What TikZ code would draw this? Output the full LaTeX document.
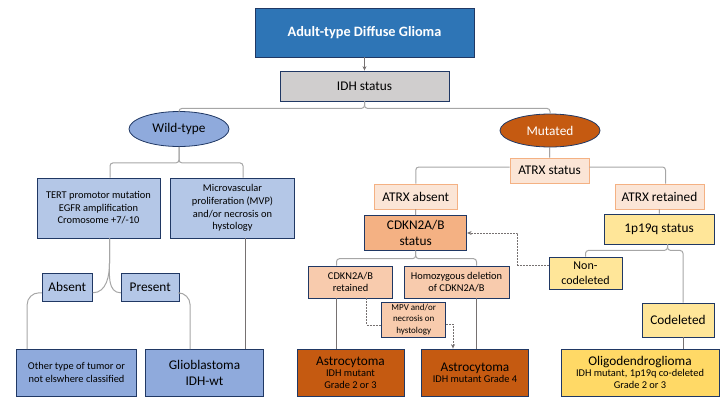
\documentclass[tikz,border=0pt]{standalone}
\usepackage{fontspec}
\setmainfont{Carlito}
\usetikzlibrary{shapes.geometric,arrows.meta}

\definecolor{navy}{HTML}{203864}
\definecolor{titleblue}{HTML}{2E75B6}
\definecolor{idhgray}{HTML}{D0CECE}
\definecolor{wildblue}{HTML}{8FAADC}
\definecolor{paleblue}{HTML}{B4C7E7}
\definecolor{rust}{HTML}{C55A11}
\definecolor{peachpale}{HTML}{FBE5D6}
\definecolor{peachline}{HTML}{F4B183}
\definecolor{peachmid}{HTML}{F8CBAD}
\definecolor{paleyellow}{HTML}{FFE699}
\definecolor{gold}{HTML}{FFD966}
\definecolor{bracegray}{HTML}{A6A6A6}
\definecolor{linegray}{HTML}{767171}

\newcommand{\txttitle}{\fontsize{14.3}{17}\selectfont\bfseries}
\newcommand{\txtbig}{\fontsize{13.3}{16}\selectfont}
\newcommand{\txtmid}{\fontsize{12}{14.5}\selectfont}
\newcommand{\txtsmall}{\fontsize{10.4}{12.6}\selectfont}
\newcommand{\txttiny}{\fontsize{9}{11.3}\selectfont}

\begin{document}
\begin{tikzpicture}[
    x=1pt, y=-1pt,
    box/.style={draw=navy, line width=0.8pt, align=center, inner sep=1pt},
    oval/.style={ellipse, draw=navy, line width=0.8pt, inner sep=0pt, font=\txtbig},
    status/.style={draw=peachline, line width=0.8pt, fill=peachpale, align=center, font=\txtbig},
    brace/.style={draw=bracegray, line width=1pt, rounded corners=3pt},
    link/.style={draw=linegray, line width=0.8pt},
    dashlink/.style={draw=linegray, line width=0.8pt, dash pattern=on 2pt off 1pt},
    tip/.style={-{Stealth[length=4.5pt,width=4pt]}}
]
\useasboundingbox (0,0) rectangle (720,405);

% Top of the tree
\node[box, fill=titleblue, text=white, font=\txttitle, minimum width=219pt, minimum height=49pt] (title) at (364.5,32.5) {Adult-type Diffuse Glioma};
\node[box, fill=idhgray, font=\txtbig, minimum width=169pt, minimum height=30pt] (idh) at (364.5,86) {IDH status};
\node[oval, fill=wildblue, minimum width=100pt, minimum height=35pt] (wild) at (179,129) {Wild-type};
\node[oval, fill=rust, text=white, minimum width=100pt, minimum height=33pt] (mut) at (550,130.5) {Mutated};

% Wild-type branch
\node[box, fill=paleblue, font=\txtsmall, minimum width=123pt, minimum height=60pt] (tert) at (98.5,208) {TERT promotor mutation\\EGFR amplification\\Cromosome +7/-10};
\node[box, fill=paleblue, font=\txtsmall, minimum width=124pt, minimum height=60pt] (mvp) at (232.5,208) {Microvascular\\proliferation (MVP)\\and/or necrosis on\\hystology};
\node[box, fill=paleblue, font=\txtbig, minimum width=50pt, minimum height=28pt] (absent) at (67.3,287.3) {Absent};
\node[box, fill=paleblue, font=\txtbig, minimum width=58pt, minimum height=28pt] (present) at (150.2,287.3) {Present};
\node[box, fill=wildblue, font=\txtsmall, minimum width=120pt, minimum height=46.5pt] (other) at (76.5,372.7) {Other type of tumor or\\not elswhere classified};
\node[box, fill=wildblue, font=\txtbig, minimum width=118pt, minimum height=46.5pt] (glio) at (204.5,372.7) {Glioblastoma\\IDH-wt};

% Mutated branch
\node[status, minimum width=79pt, minimum height=25pt] (atrxs) at (549.5,170.5) {ATRX status};
\node[status, minimum width=83pt, minimum height=25pt] (atrxa) at (415.8,196.5) {ATRX absent};
\node[status, minimum width=89pt, minimum height=25pt] (atrxr) at (659.5,196.5) {ATRX retained};
\node[box, fill=peachline, font=\txtbig, minimum width=102pt, minimum height=34.5pt] (cdkn) at (415.7,233) {CDKN2A/B\\status};
\node[box, fill=peachmid, font=\txtsmall, minimum width=84pt, minimum height=32pt] (ret) at (350.5,282) {CDKN2A/B\\retained};
\node[box, fill=peachmid, font=\txtsmall, minimum width=105pt, minimum height=32pt] (homo) at (456.5,282) {Homozygous deletion\\of CDKN2A/B};
\node[box, fill=peachmid, font=\txttiny, minimum width=64pt, minimum height=35pt] (mpvs) at (413.7,319.5) {MPV and/or\\necrosis on\\hystology};
\node[box, fill=rust, minimum width=107pt, minimum height=47pt] (astro1) at (350.5,372.5) {{\txtbig Astrocytoma}\\[-1pt]{\txtsmall IDH mutant}\\{\txtsmall Grade 2 or 3}};
\node[box, fill=rust, minimum width=107pt, minimum height=47pt] (astro2) at (475,372.5) {{\txtbig Astrocytoma}\\[-1pt]{\txtsmall IDH mutant Grade 4}};
\node[box, fill=paleyellow, font=\txtbig, minimum width=110pt, minimum height=30pt] (p19) at (659,229) {1p19q status};
\node[box, fill=paleyellow, font=\txtmid, minimum width=73pt, minimum height=32pt] (noncod) at (585.5,273) {Non-\\codeleted};
\node[box, fill=paleyellow, font=\txtbig, minimum width=72pt, minimum height=34pt] (cod) at (678,320) {Codeleted};
\node[box, fill=gold, minimum width=158pt, minimum height=47pt] (oligo) at (640,372.5) {{\txtbig Oligodendroglioma}\\[-1pt]{\txtsmall IDH mutant, 1p19q co-deleted}\\{\txtsmall Grade 2 or 3}};

% Connectors, top
\draw[link, tip] (title) -- (idh);
\draw[brace] (idh.south) -- ++(0,7) -| (wild.north);
\draw[brace] (idh.south) -- ++(0,7) -| (mut.north);

% Connectors, wild-type
\coordinate (tertin) at ([xshift=11.5pt]tert.north);
\coordinate (mvpin) at ([xshift=10.5pt]mvp.north);
\draw[brace] (wild.south) -- ++(0,16) -| (tertin);
\draw[brace] (wild.south) -- ++(0,16) -| (mvpin);
\coordinate (tertout) at ([xshift=11pt]tert.south);
\coordinate (absentin) at ([yshift=-5.5pt]absent.east);
\coordinate (presentin) at ([yshift=-5.5pt]present.west);
\draw[brace] (tertout) -- ++(0,22) to[out=-90,in=0] (absentin);
\draw[brace] (tertout) -- ++(0,22) to[out=-90,in=180] (presentin);
\coordinate (absentout) at ([yshift=-5.5pt]absent.west);
\coordinate (otherin) at ([xshift=11pt]other.north west);
\draw[brace, rounded corners=12pt] (absentout) -| (otherin);
\coordinate (presentout) at ([yshift=-5.5pt]present.east);
\coordinate (glioin) at ([xshift=45pt]glio.north west);
\draw[brace, rounded corners=12pt] (presentout) -| (glioin);
\coordinate (mvpout) at ([xshift=12.5pt]mvp.south);
\draw[link] (mvpout) -- (mvpout |- glio.north);

% Connectors, mutated
\draw[link] (mut) -- (atrxs);
\draw[brace] ([yshift=3.5pt]atrxs.west) -| (atrxa.north);
\draw[brace] ([yshift=3.5pt]atrxs.east) -| ([xshift=6pt]atrxr.north);
\draw[link] (atrxa) -- (cdkn);
\draw[link] (atrxr) -- (p19);
\coordinate (retin) at ([xshift=-14pt]ret.north);
\coordinate (homoin) at ([xshift=20pt]homo.north);
\draw[brace] (cdkn.south) -- ++(0,8) -| (retin);
\draw[brace] (cdkn.south) -- ++(0,8) -| (homoin);
\draw[link] (retin |- ret.south) -- (retin |- astro1.north);
\draw[link] (homoin |- homo.south) -- (homoin |- astro2.north);
\coordinate (retdash) at ([xshift=16pt]ret.south);
\draw[dashlink] (retdash) |- ([yshift=-5.5pt]mpvs.west);
\draw[dashlink, tip] ([yshift=-4.5pt]mpvs.east) -| ([xshift=-22pt]astro2.north);

% Connectors, 1p19q
\coordinate (p19tip) at ([xshift=8.5pt]p19.south);
\coordinate (codin) at ([xshift=5pt]cod.north);
\draw[brace] (p19tip) -- ++(0,6) -| (noncod.north);
\draw[brace] (p19tip) -- ++(0,6) -| (codin);
\draw[link] (codin |- cod.south) -- (codin |- oligo.north);
\draw[dashlink, tip] ([yshift=8pt]noncod.west) -- ++(-31,0) |- (cdkn.east);

\end{tikzpicture}
\end{document}
